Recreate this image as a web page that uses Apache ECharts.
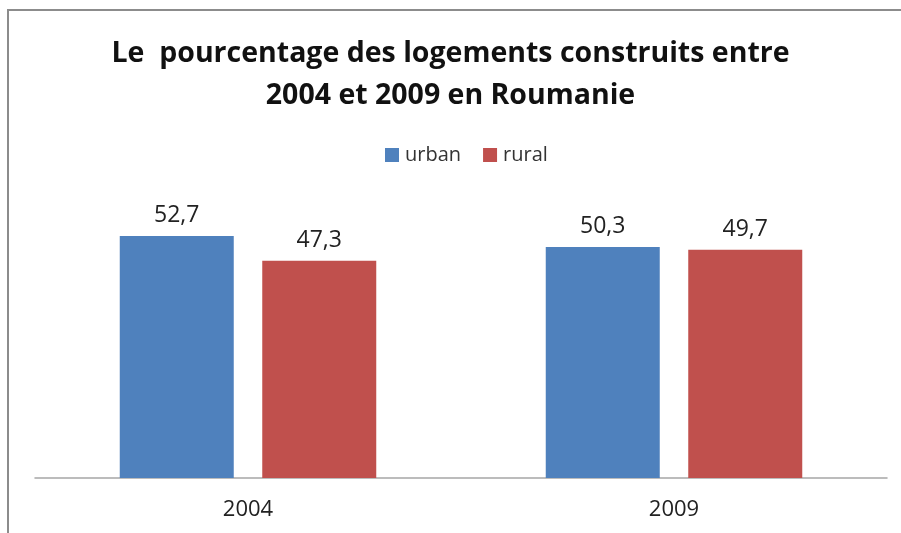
<!DOCTYPE html>
<html>
<head>
<meta charset="utf-8">
<script src="https://cdn.jsdelivr.net/npm/echarts@6/dist/echarts.min.js"></script>
<style>
  html, body { margin: 0; padding: 0; background: #fff; }
  #chart { width: 901px; height: 533px; }
</style>
</head>
<body>
<div id="chart"></div>
<script>
  const years = ["2004", "2009"];
  const urban = [52.7, 50.3];
  const rural = [47.3, 49.7];

  const chart = echarts.init(document.getElementById("chart"));

  function comma(p) {
    return String(p.value.toFixed(1)).replace(".", ",");
  }

  const labelStyle = {
    show: true,
    position: "top",
    distance: 9,
    formatter: comma,
    color: "#222",
    fontSize: 23,
    fontFamily: "Open Sans"
  };

  chart.setOption({
    animation: false,
    title: {
      text: "Le  pourcentage des logements construits entre\n2004 et 2009 en Roumanie",
      left: "center",
      top: 28,
      textStyle: {
        fontFamily: "Open Sans",
        fontWeight: "bold",
        fontSize: 28.5,
        lineHeight: 42,
        color: "#111"
      }
    },
    legend: {
      top: 140,
      left: 380,
      itemWidth: 14,
      itemHeight: 14,
      itemGap: 22,
      icon: "rect",
      textStyle: { fontFamily: "Open Sans", fontSize: 20, color: "#333", padding: [0, 0, 0, 1] }
    },
    graphic: [{
      type: "rect",
      shape: { x: 8, y: 10, width: 1000, height: 1000 },
      style: { fill: "none", stroke: "#8c8c8c", lineWidth: 2 },
      silent: true
    }],
    grid: { left: 35, right: 14, top: 202.5, bottom: 55 },
    xAxis: {
      type: "category",
      data: years,
      axisLine: { lineStyle: { color: "#a6a6a6", width: 1.5 } },
      axisTick: { show: false },
      axisLabel: { fontFamily: "Open Sans", fontSize: 22, color: "#222", margin: 21 }
    },
    yAxis: {
      type: "value",
      min: 0,
      max: 60,
      show: false
    },
    series: [
      {
        name: "urban",
        type: "bar",
        data: urban,
        barWidth: 114,
        barGap: "25%",
        itemStyle: { color: "#4f81bd" },
        label: labelStyle
      },
      {
        name: "rural",
        type: "bar",
        data: rural,
        barWidth: 114,
        itemStyle: { color: "#c0504d" },
        label: labelStyle
      }
    ]
  });
</script>
</body>
</html>
